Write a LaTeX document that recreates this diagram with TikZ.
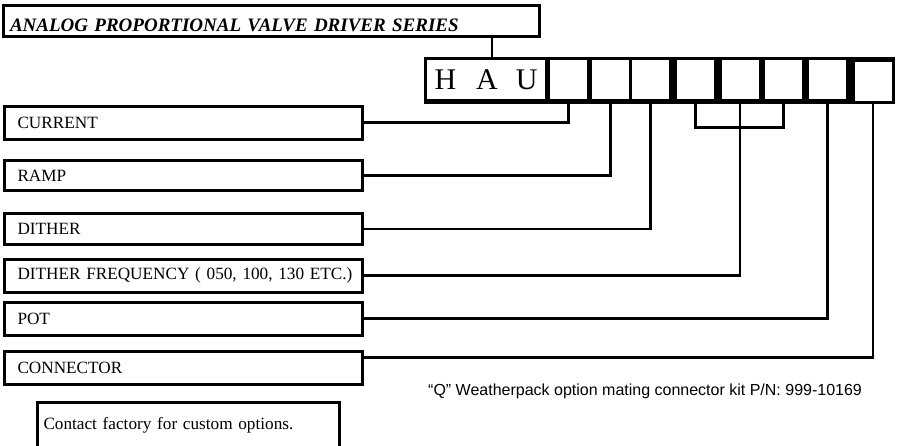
\documentclass[tikz,border=0pt]{standalone}
\usepackage{fontspec}
\setmainfont{Liberation Serif}
\newfontfamily\kitfont{Liberation Sans}
\usetikzlibrary{positioning, fit, backgrounds, calc}

\begin{document}
\begin{tikzpicture}[x=1pt, y=-1pt,
    font=\fontsize{17.2}{20}\selectfont,
    lbox/.style={draw, line width=3pt, minimum width=358pt, minimum height=33pt,
      text width=332pt, inner xsep=13pt, inner ysep=0pt, align=left},
    cell/.style={fill=white, minimum width=37pt, minimum height=39pt, inner sep=0pt},
    conn/.style={line width=2.6pt}]
    \useasboundingbox (0,0) rectangle (899,445);
    \clip (0,0) rectangle (899,445);
    \node[draw, line width=3pt, minimum width=536pt, text width=523pt, inner xsep=6.5pt,
      inner ysep=0pt, text height=25.5pt, text depth=5.5pt, align=left,
      font=\fontsize{19}{21}\selectfont\bfseries\itshape] (title) at (271.5,21)
      {ANALOG PROPORTIONAL VALVE DRIVER SERIES};
    \node[cell, minimum width=118pt, font=\fontsize{30}{32}\selectfont] (hau) at (486,79.5)
      {H\hspace{20pt}A\hspace{18pt}U};
    \foreach \n/\x in {1/568.5, 2/610.5, 3/650.5, 4/695.5, 5/740, 6/783.5, 7/827.5}
      \node[cell] (o\n) at (\x,79.5) {};
    \node[cell] (o8) at (873,81) {};
    \begin{scope}[on background layer]
      \node[fit=(hau)(o1)(o8), fill=black, inner sep=3pt] (strip) {};
    \end{scope}
    \draw[conn] ([xshift=6pt]hau.north) -- ([xshift=6pt]hau.north |- title.south);
    \node[lbox] (cur) at (183.5,122.5) {CURRENT};
    \node[lbox, minimum height=30pt] (ramp) at (183.5,175.5) {RAMP};
    \node[lbox, minimum height=31pt] (dith) at (183.5,229) {DITHER};
    \node[lbox] (dfq) at (183.5,275.5) {\mbox{DITHER FREQUENCY ( 050, 100, 130 ETC.)}};
    \node[lbox] (pot) at (183.5,318.5) {POT};
    \node[lbox] (con) at (183.5,367.5) {CONNECTOR};
    \draw[conn] (o1.south) |- (cur.east);
    \draw[conn] (o2.south) |- (ramp.east);
    \draw[conn] (o3.south) |- (dith.east);
    \draw[conn] (o4.south) -- ++(0,28) -| (o6.south);
    \draw[conn] (o5.south) |- (dfq.east);
    \draw[conn] (o7.south) |- (pot.east);
    \draw[conn] (o8.south) |- ([yshift=10pt]con.east);
    \node[font=\kitfont\fontsize{16}{19}\selectfont, anchor=base west, inner sep=0pt] (kit)
      at (428,395) {“Q” Weatherpack option mating connector kit P/N: 999-10169};
    \node[draw, line width=3pt, anchor=north west, text width=290pt, inner xsep=6pt,
      inner ysep=14pt, text height=13pt, text depth=40pt, align=left] (note) at (36,401)
      {Contact factory for custom options.};
\end{tikzpicture}
\end{document}
